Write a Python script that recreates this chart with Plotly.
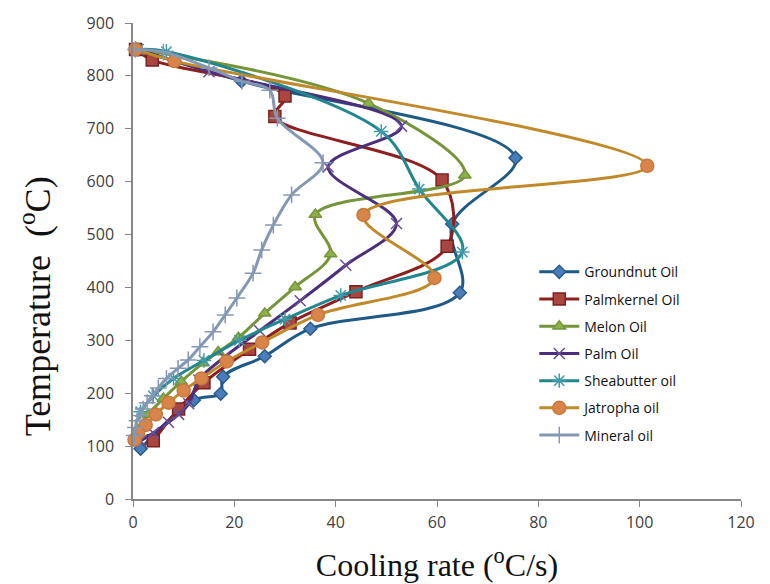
import plotly.graph_objects as go

# ---- data (cooling rate in °C/s, temperature in °C) ----
groundnut_rate = [0.5, 21.4, 75.5, 63.0, 64.5, 35.0, 26.0, 17.8, 17.3, 12.0, 1.5]
groundnut_temp = [850, 790, 645, 520, 390, 322, 270, 231, 199, 187, 95]

palmkernel_rate = [0.5, 3.8, 30.0, 28.0, 61.0, 62.0, 44.0, 31.0, 23.0, 14.0, 9.0, 4.0]
palmkernel_temp = [850, 830, 762, 723, 603, 478, 392, 333, 283, 220, 170, 110]

melon_rate = [1.0, 46.5, 65.5, 36.0, 39.0, 32.0, 26.0, 20.8, 16.8, 13.8, 9.5, 6.0, 3.0, 1.0]
melon_temp = [850, 748, 612, 538, 463, 401, 351, 305, 278, 257, 222, 190, 160, 130]

palm_rate = [1.0, 15.0, 53.0, 38.5, 52.0, 42.0, 33.0, 25.0, 18.0, 13.0, 11.0, 9.0, 7.0, 4.0, 1.5]
palm_temp = [850, 808, 705, 628, 521, 442, 375, 318, 268, 225, 180, 160, 145, 125, 110]

sheabutter_rate = [1.0, 6.6, 49.0, 56.5, 65.0, 41.0, 30.0, 21.0, 14.0, 8.0, 4.0, 1.5]
sheabutter_temp = [850, 846, 695, 586, 467, 385, 340, 300, 262, 228, 195, 165]

jatropha_rate = [0.5, 8.2, 101.5, 45.5, 59.5, 36.5, 25.5, 18.5, 13.5, 10.0, 7.0, 4.5, 2.5, 1.0, 0.3]
jatropha_temp = [850, 828, 630, 537, 418, 348, 296, 260, 228, 205, 182, 160, 140, 125, 112]

mineral_rate = [0.5, 6.0, 15.0, 21.5, 27.0, 28.5, 37.5, 31.3, 27.7, 25.4, 23.7, 20.5, 18.2, 15.8,
                13.2, 10.9, 8.9, 6.6, 5.0, 3.8, 2.8, 2.0, 1.3, 0.8, 0.5, 0.3]
mineral_temp = [850, 845, 815, 790, 773, 720, 636, 575, 518, 471, 427, 380, 348, 316,
                288, 263, 247, 228, 210, 195, 182, 170, 158, 148, 135, 120]

series_names = ["Groundnut Oil", "Palmkernel Oil", "Melon Oil", "Palm Oil",
                "Sheabutter oil", "Jatropha oil", "Mineral oil"]
x_ticks = [0, 20, 40, 60, 80, 100, 120]
y_ticks = [0, 100, 200, 300, 400, 500, 600, 700, 800, 900]

series_data = [
    (groundnut_rate, groundnut_temp),
    (palmkernel_rate, palmkernel_temp),
    (melon_rate, melon_temp),
    (palm_rate, palm_temp),
    (sheabutter_rate, sheabutter_temp),
    (jatropha_rate, jatropha_temp),
    (mineral_rate, mineral_temp),
]

styles = [
    dict(line="#1F5A86", fill="#4A7EBB", edge="#2A5C8A", symbol="diamond", size=10),
    dict(line="#8E1F1F", fill="#A9463F", edge="#7A2020", symbol="square", size=12),
    dict(line="#76953A", fill="#8DB04A", edge="#76953A", symbol="triangle-up", size=11),
    dict(line="#4B2F7A", fill="#6A4E9A", edge="#4B2F7A", symbol="x-thin-open", size=11),
    dict(line="#22868F", fill="#3F9AA8", edge="#3C8C98", symbol="asterisk-open", size=12),
    dict(line="#C08A2A", fill="#D9854A", edge="#C9783E", symbol="circle", size=13),
    dict(line="#8498B4", fill="#8498B4", edge="#8498B4", symbol="cross-thin-open", size=12),
]

fig = go.Figure()
for i, (name, (xs, ys), st) in enumerate(zip(series_names, series_data, styles)):
    fig.add_trace(go.Scatter(
        x=xs, y=ys, name=name, mode="lines+markers",
        legendgroup=f"g{i}",
        cliponaxis=False,
        line=dict(color=st["line"], width=3, shape="spline", smoothing=1.0),
        marker=dict(symbol=st["symbol"], size=st["size"], color=st["fill"],
                    line=dict(color=st["edge"], width=1.5)),
    ))

axis_font = dict(family="Open Sans, Liberation Sans, sans-serif", size=16, color="#404040")

fig.update_layout(
    width=770, height=584,
    margin=dict(l=125, r=37, t=15, b=93, autoexpand=False),
    paper_bgcolor="white", plot_bgcolor="white",
    showlegend=True,
    legend=dict(
        x=0.66, y=0.51, xanchor="left", yanchor="top",
        font=dict(family="Open Sans, Liberation Sans, sans-serif", size=14, color="#111111"),
        bgcolor="rgba(255,255,255,0)",
        tracegroupgap=6,
        itemwidth=40,
    ),
    xaxis=dict(
        range=[0, 120], tickvals=x_ticks, ticktext=[str(v) for v in x_ticks],
        automargin=False,
        showgrid=False, zeroline=False,
        showline=True, linecolor="#868686", linewidth=1.5,
        ticks="outside", ticklen=6, tickcolor="#868686",
        tickfont=axis_font, ticklabelstandoff=2,
        title=dict(text="Cooling rate (<sup>o</sup>C/s)",
                   font=dict(family="Liberation Serif, Times New Roman, serif", size=32, color="#111111"),
                   standoff=22),
    ),
    yaxis=dict(
        range=[0, 900], tickvals=y_ticks, ticktext=[str(v) for v in y_ticks],
        automargin=False,
        showgrid=False, zeroline=False,
        showline=True, linecolor="#868686", linewidth=1.5,
        ticks="outside", ticklen=6, tickcolor="#868686",
        tickfont=axis_font, ticklabelstandoff=8,
    ),
    annotations=[dict(
        text="Temperature&nbsp;&nbsp;(<sup>o</sup>C)",
        xref="paper", yref="paper", x=-0.161, y=0.405,
        xanchor="center", yanchor="middle", textangle=-90, showarrow=False,
        font=dict(family="Liberation Serif, Times New Roman, serif", size=36, color="#111111"),
    )],
)

fig.write_html("out.html")
